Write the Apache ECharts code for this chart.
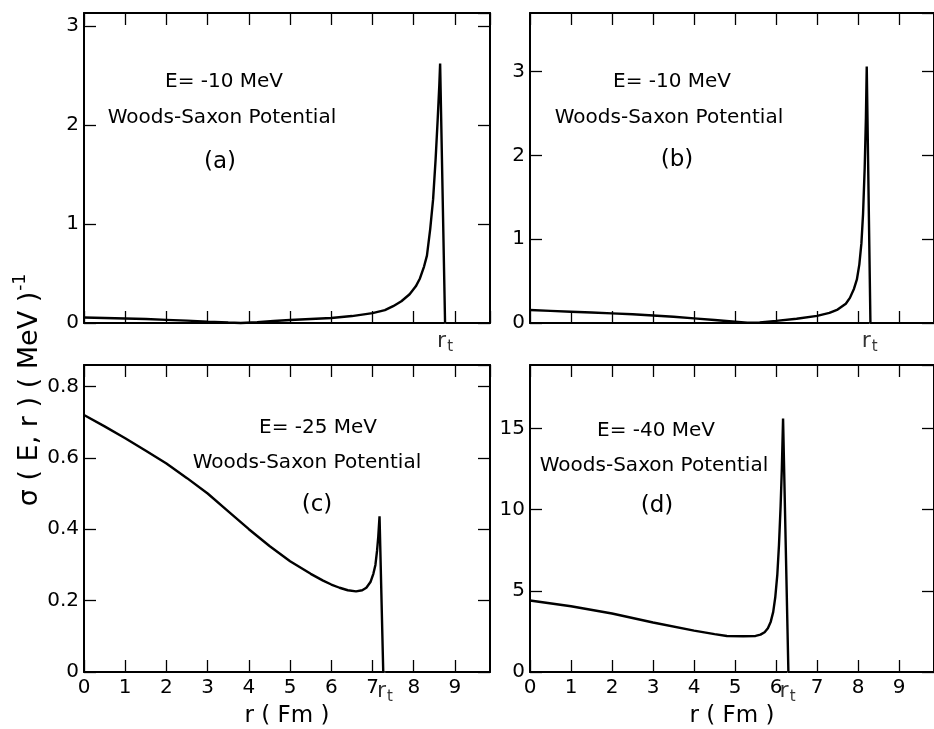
<!DOCTYPE html>
<html>
<head>
<meta charset="utf-8">
<script src="https://cdn.jsdelivr.net/npm/echarts@6/dist/echarts.min.js"></script>
<style>
  html, body { margin: 0; padding: 0; background: #fff; }
  #chart { width: 934px; height: 729px; }
</style>
</head>
<body>
<div id="chart"></div>
<script>
// (a) E = -10 MeV
const rA = [0, 0.5, 1, 1.5, 2, 2.5, 3, 3.5, 3.8, 4.2, 4.6, 5, 5.5, 6, 6.5, 7, 7.3, 7.5, 7.7, 7.9, 8.05, 8.15, 8.25, 8.32, 8.4, 8.47, 8.53, 8.58, 8.62, 8.64, 8.76];
const sigA = [0.055, 0.05, 0.045, 0.04, 0.032, 0.024, 0.014, 0.005, 0.0, 0.008, 0.02, 0.03, 0.04, 0.05, 0.07, 0.10, 0.13, 0.17, 0.22, 0.29, 0.37, 0.45, 0.57, 0.68, 0.95, 1.25, 1.65, 2.05, 2.4, 2.62, 0];
// (b) E = -10 MeV
const rB = [0, 0.5, 1, 1.5, 2, 2.5, 3, 3.5, 4, 4.5, 5, 5.3, 5.6, 6, 6.5, 7, 7.3, 7.5, 7.7, 7.8, 7.9, 7.97, 8.03, 8.08, 8.12, 8.16, 8.19, 8.21, 8.3];
const sigB = [0.155, 0.145, 0.135, 0.125, 0.115, 0.105, 0.09, 0.075, 0.055, 0.035, 0.015, 0.003, 0.008, 0.025, 0.05, 0.085, 0.12, 0.16, 0.23, 0.3, 0.41, 0.52, 0.7, 0.95, 1.3, 1.85, 2.45, 3.06, 0];
// (c) E = -25 MeV
const rC = [0, 0.5, 1, 1.5, 2, 2.5, 3, 3.5, 4, 4.5, 5, 5.5, 5.8, 6, 6.2, 6.4, 6.6, 6.75, 6.85, 6.95, 7.02, 7.07, 7.11, 7.14, 7.17, 7.26];
const sigC = [0.72, 0.688, 0.655, 0.62, 0.584, 0.543, 0.50, 0.45, 0.40, 0.353, 0.31, 0.275, 0.256, 0.245, 0.236, 0.229, 0.226, 0.229, 0.236, 0.252, 0.275, 0.30, 0.34, 0.38, 0.436, 0];
// (d) E = -40 MeV
const rD = [0, 1, 2, 3, 4, 4.5, 4.8, 5.2, 5.5, 5.62, 5.72, 5.8, 5.87, 5.93, 5.98, 6.03, 6.07, 6.11, 6.14, 6.17, 6.3];
const sigD = [4.4, 4.05, 3.6, 3.05, 2.55, 2.33, 2.22, 2.2, 2.22, 2.3, 2.45, 2.7, 3.1, 3.7, 4.6, 6.0, 7.8, 10.2, 12.5, 15.6, 0];

// turning points r_t
const turnPts = [8.76, 8.28, 7.3, 6.28];
const yMax = [3.13, 3.7, 0.86, 18.9];
const yStep = [1, 1, 0.2, 5];
const energies = ['E= -10 MeV', 'E= -10 MeV', 'E= -25 MeV', 'E= -40 MeV'];
const panelTags = ['(a)', '(b)', '(c)', '(d)'];

const X_MAX = 9.85;
const FONT = 'DejaVu Sans';

const chart = echarts.init(document.getElementById('chart'));

const grids = [
  { left: 84, top: 13, width: 406, height: 310 },
  { left: 530, top: 13, width: 406, height: 310 },
  { left: 84, top: 365, width: 406, height: 307 },
  { left: 530, top: 365, width: 406, height: 308 },
];

const lineSt = { color: '#000', width: 2 };
const tickSt = { show: true, inside: true, length: 12, lineStyle: { color: '#000', width: 1.3 } };

const xAxes = [];
const yAxes = [];
grids.forEach((g, i) => {
  const bottomRow = i >= 2;
  ['bottom', 'top'].forEach((pos) => {
    const withLabels = pos === 'bottom' && bottomRow;
    xAxes.push({
      type: 'value', gridIndex: i, position: pos, min: 0, max: X_MAX, interval: 1,
      axisLine: { show: true, onZero: false, lineStyle: lineSt },
      axisTick: tickSt,
      splitLine: { show: false },
      axisLabel: {
        show: withLabels, color: '#000', fontSize: 20, fontFamily: FONT, margin: 6,
        showMaxLabel: false, formatter: (v) => String(v),
      },
      name: withLabels ? 'r ( Fm )' : '',
      nameLocation: 'middle', nameGap: 33,
      nameTextStyle: { color: '#000', fontSize: 23, fontFamily: FONT },
    });
  });
  ['left', 'right'].forEach((pos) => {
    yAxes.push({
      type: 'value', gridIndex: i, position: pos, min: 0, max: yMax[i], interval: yStep[i],
      axisLine: { show: true, onZero: false, lineStyle: lineSt },
      axisTick: tickSt,
      splitLine: { show: false },
      axisLabel: {
        show: pos === 'left', color: '#000', fontSize: 20, fontFamily: FONT, margin: 5,
        showMaxLabel: false,
        formatter: (v) => (yStep[i] < 1 && v !== 0 ? v.toFixed(1) : String(Math.round(v))),
      },
    });
  });
});

const curves = [[rA, sigA], [rB, sigB], [rC, sigC], [rD, sigD]];
const series = [];
curves.forEach(([r, s], i) => {
  series.push({
    type: 'line', xAxisIndex: i * 2, yAxisIndex: i * 2,
    data: r.map((x, k) => [x, s[k]]),
    showSymbol: false, silent: true, clip: false,
    lineStyle: { color: '#000', width: 2.4 },
  });
  // r_t mark under the axis
  series.push({
    type: 'scatter', xAxisIndex: i * 2, yAxisIndex: i * 2,
    data: [[turnPts[i], 0]],
    symbolSize: 1, silent: true,
    itemStyle: { color: '#fff' },
    label: {
      show: true, position: 'bottom', distance: i >= 2 ? 5 : 4,
      color: '#000', textBorderWidth: 0,
      formatter: '{r|r}{t|t}',
      rich: {
        r: { fontSize: 22, fontFamily: FONT, color: '#000', textBorderWidth: 0 },
        t: { fontSize: 15, fontFamily: FONT, color: '#000', textBorderWidth: 0, padding: [12, 0, 0, 1] },
      },
    },
  });
});

// panel annotation positions (text centres)
const notePos = [[224, 222, 220, 82, 118, 162], [672, 669, 677, 82, 118, 160],
                 [318, 307, 317, 428, 463, 505], [656, 654, 657, 431, 466, 506]];
const graphics = [];
notePos.forEach((p, i) => {
  const lines = [energies[i], 'Woods-Saxon Potential', panelTags[i]];
  lines.forEach((txt, k) => {
    graphics.push({
      type: 'text', x: p[k], y: p[3 + k], silent: true,
      style: { text: txt, align: 'center', verticalAlign: 'middle', fill: '#000',
               font: (k === 2 ? '23px ' : '20px ') + FONT },
    });
  });
});
graphics.push({
  type: 'text', x: 30, y: 390, rotation: Math.PI / 2, silent: true,
  style: {
    text: '{m|σ ( E, r ) ( MeV )}{s|-1}', align: 'center', verticalAlign: 'middle',
    rich: {
      m: { fontSize: 27, fontFamily: FONT, fill: '#000' },
      s: { fontSize: 17, fontFamily: FONT, fill: '#000', padding: [0, 0, 18, 1] },
    },
  },
});

chart.setOption({
  backgroundColor: '#fff',
  animation: false,
  grid: grids,
  xAxis: xAxes,
  yAxis: yAxes,
  series: series,
  graphic: graphics,
});
</script>
</body>
</html>
